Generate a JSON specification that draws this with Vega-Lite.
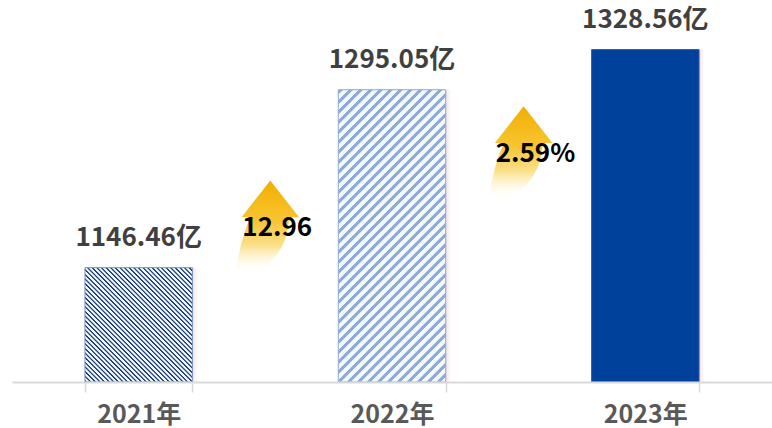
{
"$schema":"https://vega.github.io/schema/vega-lite/v6.json",
"width":760,"height":382,
"autosize":{"type":"none"},
"padding":{"left":12,"top":0,"right":0,"bottom":46},
"background":"white",
"config":{"view":{"stroke":null},"font":"Noto Sans CJK SC"},
"resolve":{"scale":{"x":"independent"},"axis":{"x":"independent"}},
"layer":[
{
"data":{"values":[
{"year":"2021年","value":1146.46,"label":"1146.46亿"},
{"year":"2022年","value":1295.05,"label":"1295.05亿"},
{"year":"2023年","value":1328.56,"label":"1328.56亿"}]},
"encoding":{
"x":{"field":"year","type":"nominal","sort":null,"title":null,
"scale":{"paddingInner":0.576,"paddingOuter":0.288},
"axis":{"labelAngle":0,"labelFontSize":25,"labelFontWeight":"bold","labelColor":"#595959","labelFont":"Noto Sans CJK SC","labelBaseline":"alphabetic","labelPadding":30,"tickBand":"extent","tickSize":10,"tickColor":"#d9d9d9","tickWidth":1.5,"domainColor":"#d9d9d9","domainWidth":2,"grid":false,"zindex":1}},
"y":{"field":"value","type":"quantitative","scale":{"domain":[1051,1370],"nice":false,"zero":false,"clamp":true},"axis":null}
},
"layer":[
{"mark":{"type":"bar","xOffset":7,"fill":{"gradient":"linear","x1":0,"y1":0,"x2":1,"y2":0,"stops":[{"offset":0,"color":"#f3dada"},{"offset":0.935,"color":"#f3dada"},{"offset":1,"color":"rgba(255,255,255,0)"}]}}},
{"transform":[{"filter":"datum.year === '2021年'"}],
"mark":{"type":"bar","stroke":"#7391c8","strokeWidth":1,"fill":{"gradient":"linear","x1":0,"y1":1,"x2":0.97,"y2":-0.029,"stops":[
{"offset":0,"color":"#eef7fb"},{"offset":0.0031,"color":"#24407a"},{"offset":0.0083,"color":"#24407a"},{"offset":0.0115,"color":"#eef7fb"},
{"offset":0.0208,"color":"#eef7fb"},{"offset":0.024,"color":"#24407a"},{"offset":0.0292,"color":"#24407a"},{"offset":0.0323,"color":"#eef7fb"},
{"offset":0.0417,"color":"#eef7fb"},{"offset":0.0448,"color":"#24407a"},{"offset":0.05,"color":"#24407a"},{"offset":0.0531,"color":"#eef7fb"},
{"offset":0.0625,"color":"#eef7fb"},{"offset":0.0656,"color":"#24407a"},{"offset":0.0708,"color":"#24407a"},{"offset":0.074,"color":"#eef7fb"},
{"offset":0.0833,"color":"#eef7fb"},{"offset":0.0865,"color":"#24407a"},{"offset":0.0917,"color":"#24407a"},{"offset":0.0948,"color":"#eef7fb"},
{"offset":0.1042,"color":"#eef7fb"},{"offset":0.1073,"color":"#24407a"},{"offset":0.1125,"color":"#24407a"},{"offset":0.1156,"color":"#eef7fb"},
{"offset":0.125,"color":"#eef7fb"},{"offset":0.1281,"color":"#24407a"},{"offset":0.1333,"color":"#24407a"},{"offset":0.1365,"color":"#eef7fb"},
{"offset":0.1458,"color":"#eef7fb"},{"offset":0.149,"color":"#24407a"},{"offset":0.1542,"color":"#24407a"},{"offset":0.1573,"color":"#eef7fb"},
{"offset":0.1667,"color":"#eef7fb"},{"offset":0.1698,"color":"#24407a"},{"offset":0.175,"color":"#24407a"},{"offset":0.1781,"color":"#eef7fb"},
{"offset":0.1875,"color":"#eef7fb"},{"offset":0.1906,"color":"#24407a"},{"offset":0.1958,"color":"#24407a"},{"offset":0.199,"color":"#eef7fb"},
{"offset":0.2083,"color":"#eef7fb"},{"offset":0.2115,"color":"#24407a"},{"offset":0.2167,"color":"#24407a"},{"offset":0.2198,"color":"#eef7fb"},
{"offset":0.2292,"color":"#eef7fb"},{"offset":0.2323,"color":"#24407a"},{"offset":0.2375,"color":"#24407a"},{"offset":0.2406,"color":"#eef7fb"},
{"offset":0.25,"color":"#eef7fb"},{"offset":0.2531,"color":"#24407a"},{"offset":0.2583,"color":"#24407a"},{"offset":0.2615,"color":"#eef7fb"},
{"offset":0.2708,"color":"#eef7fb"},{"offset":0.274,"color":"#24407a"},{"offset":0.2792,"color":"#24407a"},{"offset":0.2823,"color":"#eef7fb"},
{"offset":0.2917,"color":"#eef7fb"},{"offset":0.2948,"color":"#24407a"},{"offset":0.3,"color":"#24407a"},{"offset":0.3031,"color":"#eef7fb"},
{"offset":0.3125,"color":"#eef7fb"},{"offset":0.3156,"color":"#24407a"},{"offset":0.3208,"color":"#24407a"},{"offset":0.324,"color":"#eef7fb"},
{"offset":0.3333,"color":"#eef7fb"},{"offset":0.3365,"color":"#24407a"},{"offset":0.3417,"color":"#24407a"},{"offset":0.3448,"color":"#eef7fb"},
{"offset":0.3542,"color":"#eef7fb"},{"offset":0.3573,"color":"#24407a"},{"offset":0.3625,"color":"#24407a"},{"offset":0.3656,"color":"#eef7fb"},
{"offset":0.375,"color":"#eef7fb"},{"offset":0.3781,"color":"#24407a"},{"offset":0.3833,"color":"#24407a"},{"offset":0.3865,"color":"#eef7fb"},
{"offset":0.3958,"color":"#eef7fb"},{"offset":0.399,"color":"#24407a"},{"offset":0.4042,"color":"#24407a"},{"offset":0.4073,"color":"#eef7fb"},
{"offset":0.4167,"color":"#eef7fb"},{"offset":0.4198,"color":"#24407a"},{"offset":0.425,"color":"#24407a"},{"offset":0.4281,"color":"#eef7fb"},
{"offset":0.4375,"color":"#eef7fb"},{"offset":0.4406,"color":"#24407a"},{"offset":0.4458,"color":"#24407a"},{"offset":0.449,"color":"#eef7fb"},
{"offset":0.4583,"color":"#eef7fb"},{"offset":0.4615,"color":"#24407a"},{"offset":0.4667,"color":"#24407a"},{"offset":0.4698,"color":"#eef7fb"},
{"offset":0.4792,"color":"#eef7fb"},{"offset":0.4823,"color":"#24407a"},{"offset":0.4875,"color":"#24407a"},{"offset":0.4906,"color":"#eef7fb"},
{"offset":0.5,"color":"#eef7fb"},{"offset":0.5031,"color":"#24407a"},{"offset":0.5083,"color":"#24407a"},{"offset":0.5115,"color":"#eef7fb"},
{"offset":0.5208,"color":"#eef7fb"},{"offset":0.524,"color":"#24407a"},{"offset":0.5292,"color":"#24407a"},{"offset":0.5323,"color":"#eef7fb"},
{"offset":0.5417,"color":"#eef7fb"},{"offset":0.5448,"color":"#24407a"},{"offset":0.55,"color":"#24407a"},{"offset":0.5531,"color":"#eef7fb"},
{"offset":0.5625,"color":"#eef7fb"},{"offset":0.5656,"color":"#24407a"},{"offset":0.5708,"color":"#24407a"},{"offset":0.574,"color":"#eef7fb"},
{"offset":0.5833,"color":"#eef7fb"},{"offset":0.5865,"color":"#24407a"},{"offset":0.5917,"color":"#24407a"},{"offset":0.5948,"color":"#eef7fb"},
{"offset":0.6042,"color":"#eef7fb"},{"offset":0.6073,"color":"#24407a"},{"offset":0.6125,"color":"#24407a"},{"offset":0.6156,"color":"#eef7fb"},
{"offset":0.625,"color":"#eef7fb"},{"offset":0.6281,"color":"#24407a"},{"offset":0.6333,"color":"#24407a"},{"offset":0.6365,"color":"#eef7fb"},
{"offset":0.6458,"color":"#eef7fb"},{"offset":0.649,"color":"#24407a"},{"offset":0.6542,"color":"#24407a"},{"offset":0.6573,"color":"#eef7fb"},
{"offset":0.6667,"color":"#eef7fb"},{"offset":0.6698,"color":"#24407a"},{"offset":0.675,"color":"#24407a"},{"offset":0.6781,"color":"#eef7fb"},
{"offset":0.6875,"color":"#eef7fb"},{"offset":0.6906,"color":"#24407a"},{"offset":0.6958,"color":"#24407a"},{"offset":0.699,"color":"#eef7fb"},
{"offset":0.7083,"color":"#eef7fb"},{"offset":0.7115,"color":"#24407a"},{"offset":0.7167,"color":"#24407a"},{"offset":0.7198,"color":"#eef7fb"},
{"offset":0.7292,"color":"#eef7fb"},{"offset":0.7323,"color":"#24407a"},{"offset":0.7375,"color":"#24407a"},{"offset":0.7406,"color":"#eef7fb"},
{"offset":0.75,"color":"#eef7fb"},{"offset":0.7531,"color":"#24407a"},{"offset":0.7583,"color":"#24407a"},{"offset":0.7615,"color":"#eef7fb"},
{"offset":0.7708,"color":"#eef7fb"},{"offset":0.774,"color":"#24407a"},{"offset":0.7792,"color":"#24407a"},{"offset":0.7823,"color":"#eef7fb"},
{"offset":0.7917,"color":"#eef7fb"},{"offset":0.7948,"color":"#24407a"},{"offset":0.8,"color":"#24407a"},{"offset":0.8031,"color":"#eef7fb"},
{"offset":0.8125,"color":"#eef7fb"},{"offset":0.8156,"color":"#24407a"},{"offset":0.8208,"color":"#24407a"},{"offset":0.824,"color":"#eef7fb"},
{"offset":0.8333,"color":"#eef7fb"},{"offset":0.8365,"color":"#24407a"},{"offset":0.8417,"color":"#24407a"},{"offset":0.8448,"color":"#eef7fb"},
{"offset":0.8542,"color":"#eef7fb"},{"offset":0.8573,"color":"#24407a"},{"offset":0.8625,"color":"#24407a"},{"offset":0.8656,"color":"#eef7fb"},
{"offset":0.875,"color":"#eef7fb"},{"offset":0.8781,"color":"#24407a"},{"offset":0.8833,"color":"#24407a"},{"offset":0.8865,"color":"#eef7fb"},
{"offset":0.8958,"color":"#eef7fb"},{"offset":0.899,"color":"#24407a"},{"offset":0.9042,"color":"#24407a"},{"offset":0.9073,"color":"#eef7fb"},
{"offset":0.9167,"color":"#eef7fb"},{"offset":0.9198,"color":"#24407a"},{"offset":0.925,"color":"#24407a"},{"offset":0.9281,"color":"#eef7fb"},
{"offset":0.9375,"color":"#eef7fb"},{"offset":0.9406,"color":"#24407a"},{"offset":0.9458,"color":"#24407a"},{"offset":0.949,"color":"#eef7fb"},
{"offset":0.9583,"color":"#eef7fb"},{"offset":0.9615,"color":"#24407a"},{"offset":0.9667,"color":"#24407a"},{"offset":0.9698,"color":"#eef7fb"},
{"offset":0.9792,"color":"#eef7fb"},{"offset":0.9823,"color":"#24407a"},{"offset":0.9875,"color":"#24407a"},{"offset":0.9906,"color":"#eef7fb"},
{"offset":1,"color":"#eef7fb"}]}}},
{"transform":[{"filter":"datum.year === '2022年'"}],
"mark":{"type":"bar","stroke":"#8eaad9","strokeWidth":1,"fill":{"gradient":"linear","x1":0,"y1":0,"x2":0.4436,"y2":1.205,"stops":[
{"offset":0,"color":"#f5fbfd"},{"offset":0.0015,"color":"#8eaad9"},{"offset":0.0115,"color":"#8eaad9"},{"offset":0.013,"color":"#f5fbfd"},
{"offset":0.025,"color":"#f5fbfd"},{"offset":0.0265,"color":"#8eaad9"},{"offset":0.0365,"color":"#8eaad9"},{"offset":0.038,"color":"#f5fbfd"},
{"offset":0.05,"color":"#f5fbfd"},{"offset":0.0515,"color":"#8eaad9"},{"offset":0.0615,"color":"#8eaad9"},{"offset":0.063,"color":"#f5fbfd"},
{"offset":0.075,"color":"#f5fbfd"},{"offset":0.0765,"color":"#8eaad9"},{"offset":0.0865,"color":"#8eaad9"},{"offset":0.088,"color":"#f5fbfd"},
{"offset":0.1,"color":"#f5fbfd"},{"offset":0.1015,"color":"#8eaad9"},{"offset":0.1115,"color":"#8eaad9"},{"offset":0.113,"color":"#f5fbfd"},
{"offset":0.125,"color":"#f5fbfd"},{"offset":0.1265,"color":"#8eaad9"},{"offset":0.1365,"color":"#8eaad9"},{"offset":0.138,"color":"#f5fbfd"},
{"offset":0.15,"color":"#f5fbfd"},{"offset":0.1515,"color":"#8eaad9"},{"offset":0.1615,"color":"#8eaad9"},{"offset":0.163,"color":"#f5fbfd"},
{"offset":0.175,"color":"#f5fbfd"},{"offset":0.1765,"color":"#8eaad9"},{"offset":0.1865,"color":"#8eaad9"},{"offset":0.188,"color":"#f5fbfd"},
{"offset":0.2,"color":"#f5fbfd"},{"offset":0.2015,"color":"#8eaad9"},{"offset":0.2115,"color":"#8eaad9"},{"offset":0.213,"color":"#f5fbfd"},
{"offset":0.225,"color":"#f5fbfd"},{"offset":0.2265,"color":"#8eaad9"},{"offset":0.2365,"color":"#8eaad9"},{"offset":0.238,"color":"#f5fbfd"},
{"offset":0.25,"color":"#f5fbfd"},{"offset":0.2515,"color":"#8eaad9"},{"offset":0.2615,"color":"#8eaad9"},{"offset":0.263,"color":"#f5fbfd"},
{"offset":0.275,"color":"#f5fbfd"},{"offset":0.2765,"color":"#8eaad9"},{"offset":0.2865,"color":"#8eaad9"},{"offset":0.288,"color":"#f5fbfd"},
{"offset":0.3,"color":"#f5fbfd"},{"offset":0.3015,"color":"#8eaad9"},{"offset":0.3115,"color":"#8eaad9"},{"offset":0.313,"color":"#f5fbfd"},
{"offset":0.325,"color":"#f5fbfd"},{"offset":0.3265,"color":"#8eaad9"},{"offset":0.3365,"color":"#8eaad9"},{"offset":0.338,"color":"#f5fbfd"},
{"offset":0.35,"color":"#f5fbfd"},{"offset":0.3515,"color":"#8eaad9"},{"offset":0.3615,"color":"#8eaad9"},{"offset":0.363,"color":"#f5fbfd"},
{"offset":0.375,"color":"#f5fbfd"},{"offset":0.3765,"color":"#8eaad9"},{"offset":0.3865,"color":"#8eaad9"},{"offset":0.388,"color":"#f5fbfd"},
{"offset":0.4,"color":"#f5fbfd"},{"offset":0.4015,"color":"#8eaad9"},{"offset":0.4115,"color":"#8eaad9"},{"offset":0.413,"color":"#f5fbfd"},
{"offset":0.425,"color":"#f5fbfd"},{"offset":0.4265,"color":"#8eaad9"},{"offset":0.4365,"color":"#8eaad9"},{"offset":0.438,"color":"#f5fbfd"},
{"offset":0.45,"color":"#f5fbfd"},{"offset":0.4515,"color":"#8eaad9"},{"offset":0.4615,"color":"#8eaad9"},{"offset":0.463,"color":"#f5fbfd"},
{"offset":0.475,"color":"#f5fbfd"},{"offset":0.4765,"color":"#8eaad9"},{"offset":0.4865,"color":"#8eaad9"},{"offset":0.488,"color":"#f5fbfd"},
{"offset":0.5,"color":"#f5fbfd"},{"offset":0.5015,"color":"#8eaad9"},{"offset":0.5115,"color":"#8eaad9"},{"offset":0.513,"color":"#f5fbfd"},
{"offset":0.525,"color":"#f5fbfd"},{"offset":0.5265,"color":"#8eaad9"},{"offset":0.5365,"color":"#8eaad9"},{"offset":0.538,"color":"#f5fbfd"},
{"offset":0.55,"color":"#f5fbfd"},{"offset":0.5515,"color":"#8eaad9"},{"offset":0.5615,"color":"#8eaad9"},{"offset":0.563,"color":"#f5fbfd"},
{"offset":0.575,"color":"#f5fbfd"},{"offset":0.5765,"color":"#8eaad9"},{"offset":0.5865,"color":"#8eaad9"},{"offset":0.588,"color":"#f5fbfd"},
{"offset":0.6,"color":"#f5fbfd"},{"offset":0.6015,"color":"#8eaad9"},{"offset":0.6115,"color":"#8eaad9"},{"offset":0.613,"color":"#f5fbfd"},
{"offset":0.625,"color":"#f5fbfd"},{"offset":0.6265,"color":"#8eaad9"},{"offset":0.6365,"color":"#8eaad9"},{"offset":0.638,"color":"#f5fbfd"},
{"offset":0.65,"color":"#f5fbfd"},{"offset":0.6515,"color":"#8eaad9"},{"offset":0.6615,"color":"#8eaad9"},{"offset":0.663,"color":"#f5fbfd"},
{"offset":0.675,"color":"#f5fbfd"},{"offset":0.6765,"color":"#8eaad9"},{"offset":0.6865,"color":"#8eaad9"},{"offset":0.688,"color":"#f5fbfd"},
{"offset":0.7,"color":"#f5fbfd"},{"offset":0.7015,"color":"#8eaad9"},{"offset":0.7115,"color":"#8eaad9"},{"offset":0.713,"color":"#f5fbfd"},
{"offset":0.725,"color":"#f5fbfd"},{"offset":0.7265,"color":"#8eaad9"},{"offset":0.7365,"color":"#8eaad9"},{"offset":0.738,"color":"#f5fbfd"},
{"offset":0.75,"color":"#f5fbfd"},{"offset":0.7515,"color":"#8eaad9"},{"offset":0.7615,"color":"#8eaad9"},{"offset":0.763,"color":"#f5fbfd"},
{"offset":0.775,"color":"#f5fbfd"},{"offset":0.7765,"color":"#8eaad9"},{"offset":0.7865,"color":"#8eaad9"},{"offset":0.788,"color":"#f5fbfd"},
{"offset":0.8,"color":"#f5fbfd"},{"offset":0.8015,"color":"#8eaad9"},{"offset":0.8115,"color":"#8eaad9"},{"offset":0.813,"color":"#f5fbfd"},
{"offset":0.825,"color":"#f5fbfd"},{"offset":0.8265,"color":"#8eaad9"},{"offset":0.8365,"color":"#8eaad9"},{"offset":0.838,"color":"#f5fbfd"},
{"offset":0.85,"color":"#f5fbfd"},{"offset":0.8515,"color":"#8eaad9"},{"offset":0.8615,"color":"#8eaad9"},{"offset":0.863,"color":"#f5fbfd"},
{"offset":0.875,"color":"#f5fbfd"},{"offset":0.8765,"color":"#8eaad9"},{"offset":0.8865,"color":"#8eaad9"},{"offset":0.888,"color":"#f5fbfd"},
{"offset":0.9,"color":"#f5fbfd"},{"offset":0.9015,"color":"#8eaad9"},{"offset":0.9115,"color":"#8eaad9"},{"offset":0.913,"color":"#f5fbfd"},
{"offset":0.925,"color":"#f5fbfd"},{"offset":0.9265,"color":"#8eaad9"},{"offset":0.9365,"color":"#8eaad9"},{"offset":0.938,"color":"#f5fbfd"},
{"offset":0.95,"color":"#f5fbfd"},{"offset":0.9515,"color":"#8eaad9"},{"offset":0.9615,"color":"#8eaad9"},{"offset":0.963,"color":"#f5fbfd"},
{"offset":0.975,"color":"#f5fbfd"},{"offset":0.9765,"color":"#8eaad9"},{"offset":0.9865,"color":"#8eaad9"},{"offset":0.988,"color":"#f5fbfd"},
{"offset":1,"color":"#f5fbfd"}]}}},
{"transform":[{"filter":"datum.year === '2023年'"}],
"mark":{"type":"bar","fill":"#00419b","stroke":"#2d57a3","strokeWidth":1}},
{"mark":{"type":"text","dy":-22,"baseline":"alphabetic","fontSize":26,"fontWeight":"bold","fill":"#404040","font":"Noto Sans CJK SC"},
"encoding":{"text":{"field":"label"}}}
]
},
{
"data":{"values":[
{"pos":1,"v":1181,"pct":"12.96"},
{"pos":2,"v":1243,"pct":"2.59%"}]},
"encoding":{
"x":{"field":"pos","type":"quantitative","scale":{"domain":[0,3],"nice":false,"zero":false},"axis":null},
"y":{"field":"v","type":"quantitative","scale":{"domain":[1051,1370],"nice":false,"zero":false,"clamp":true},"axis":null}
},
"layer":[
{"mark":{"type":"point","shape":"M0.11,-1.02L0.75,-0.2L0.53,-0.2Q0.5,0.64,-0.22,1.02L-0.66,1.02Q-0.56,0.31,-0.33,-0.2L-0.53,-0.2Z","size":8100,"filled":true,"opacity":1,"strokeWidth":0,
"fill":{"gradient":"linear","x1":0,"y1":0,"x2":0,"y2":1,"stops":[{"offset":0,"color":"#f2ae00"},{"offset":0.45,"color":"#f7c634"},{"offset":0.72,"color":"#fbe292"},{"offset":1,"color":"rgba(255,252,240,0)"}]}}},
{"mark":{"type":"text","align":"left","dx":-23,"dy":10,"baseline":"alphabetic","fontSize":26,"fontWeight":"bold","fill":"#000000","font":"Noto Sans CJK SC"},
"encoding":{"text":{"field":"pct"}}}
]
}
]
}
